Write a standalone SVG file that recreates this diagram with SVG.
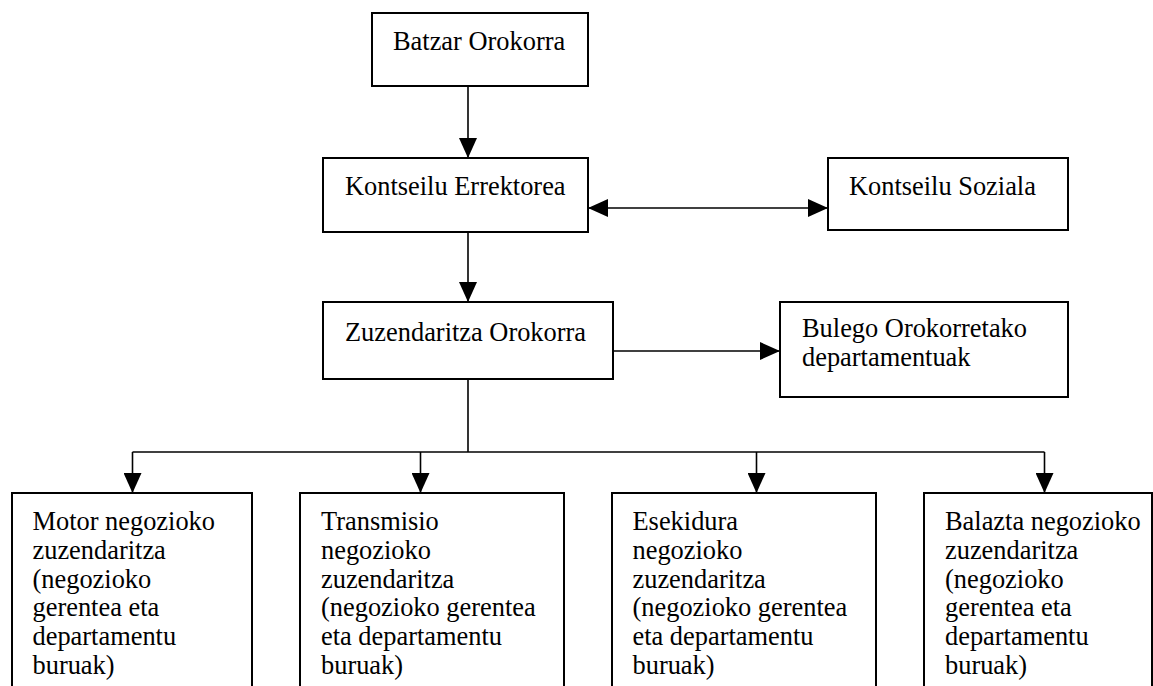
<svg xmlns="http://www.w3.org/2000/svg" width="1153" height="686" viewBox="0 0 1153 686">
<style>
.box{fill:#fff;stroke:#000;stroke-width:2}
.t{font-family:"Liberation Serif","Times New Roman",serif;font-size:26.4px;fill:#000}
.c{fill:none;stroke:#000;stroke-width:1.6}
</style>
<defs>
<marker id="ah" markerUnits="userSpaceOnUse" markerWidth="20" markerHeight="18" refX="20" refY="9" orient="auto-start-reverse" viewBox="0 0 20 18">
<path d="M0,0 L20,9 L0,18 Z" fill="#000"/>
</marker>
</defs>
<rect width="1153" height="686" fill="#fff"/>
<g id="connectors">
<line class="c" x1="468" y1="86" x2="468" y2="158" marker-end="url(#ah)"/>
<line class="c" x1="588" y1="208" x2="828" y2="208" marker-start="url(#ah)" marker-end="url(#ah)"/>
<line class="c" x1="468" y1="232" x2="468" y2="302" marker-end="url(#ah)"/>
<line class="c" x1="613" y1="351" x2="780" y2="351" marker-end="url(#ah)"/>
<line class="c" x1="468" y1="379" x2="468" y2="452"/>
<line class="c" x1="132.5" y1="452" x2="1044.5" y2="452"/>
<line class="c" x1="132.5" y1="452" x2="132.5" y2="493" marker-end="url(#ah)"/>
<line class="c" x1="420.5" y1="452" x2="420.5" y2="493" marker-end="url(#ah)"/>
<line class="c" x1="756.5" y1="452" x2="756.5" y2="493" marker-end="url(#ah)"/>
<line class="c" x1="1044.5" y1="452" x2="1044.5" y2="493" marker-end="url(#ah)"/>
</g>
<g id="batzar">
<rect class="box" x="372" y="13" width="216" height="73"/>
<text class="t" x="393" y="50">Batzar Orokorra</text>
</g>
<g id="erektorea">
<rect class="box" x="323" y="158" width="265" height="74"/>
<text class="t" x="345" y="195">Kontseilu Errektorea</text>
</g>
<g id="soziala">
<rect class="box" x="828" y="158" width="240" height="72"/>
<text class="t" x="849" y="195">Kontseilu Soziala</text>
</g>
<g id="zuzendaritza">
<rect class="box" x="323" y="302" width="290" height="77"/>
<text class="t" x="345" y="341">Zuzendaritza Orokorra</text>
</g>
<g id="bulego">
<rect class="box" x="780" y="302" width="288" height="95"/>
<text class="t" x="802" y="336.5">Bulego Orokorretako</text>
<text class="t" x="802" y="366">departamentuak</text>
</g>
<g id="motor">
<rect class="box" x="12" y="493" width="240" height="210"/>
<text class="t" x="32.5" y="530">Motor negozioko</text>
<text class="t" x="32.5" y="558.8">zuzendaritza</text>
<text class="t" x="32.5" y="587.6">(negozioko</text>
<text class="t" x="32.5" y="616.4">gerentea eta</text>
<text class="t" x="32.5" y="645.2">departamentu</text>
<text class="t" x="32.5" y="674">buruak)</text>
</g>
<g id="transmisio">
<rect class="box" x="300" y="493" width="264" height="210"/>
<text class="t" x="321" y="530">Transmisio</text>
<text class="t" x="321" y="558.8">negozioko</text>
<text class="t" x="321" y="587.6">zuzendaritza</text>
<text class="t" x="321" y="616.4">(negozioko gerentea</text>
<text class="t" x="321" y="645.2">eta departamentu</text>
<text class="t" x="321" y="674">buruak)</text>
</g>
<g id="esekidura">
<rect class="box" x="612" y="493" width="264" height="210"/>
<text class="t" x="632.5" y="530">Esekidura</text>
<text class="t" x="632.5" y="558.8">negozioko</text>
<text class="t" x="632.5" y="587.6">zuzendaritza</text>
<text class="t" x="632.5" y="616.4">(negozioko gerentea</text>
<text class="t" x="632.5" y="645.2">eta departamentu</text>
<text class="t" x="632.5" y="674">buruak)</text>
</g>
<g id="balazta">
<rect class="box" x="924" y="493" width="228" height="210"/>
<text class="t" x="945" y="530">Balazta negozioko</text>
<text class="t" x="945" y="558.8">zuzendaritza</text>
<text class="t" x="945" y="587.6">(negozioko</text>
<text class="t" x="945" y="616.4">gerentea eta</text>
<text class="t" x="945" y="645.2">departamentu</text>
<text class="t" x="945" y="674">buruak)</text>
</g>
</svg>
